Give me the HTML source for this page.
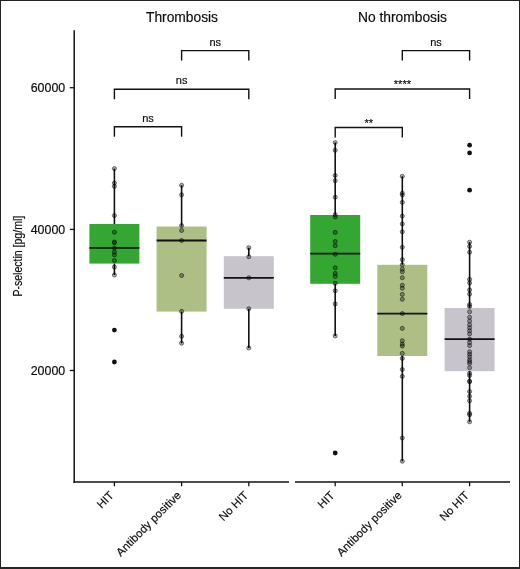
<!DOCTYPE html><html><head><meta charset="utf-8"><style>html,body{margin:0;padding:0;background:#fff;}svg{display:block;will-change:transform;}text{font-family:"Liberation Sans", sans-serif;fill:#0d0d0d;stroke:#0d0d0d;stroke-width:0.18px;}</style></head><body>
<svg width="520" height="569" viewBox="0 0 520 569">
<rect x="0" y="0" width="520" height="569" fill="#fff"/>
<rect x="89.40" y="224.00" width="50.00" height="39.60" fill="#34a733"/>
<line x1="114.40" y1="168.60" x2="114.40" y2="224.00" stroke="#111" stroke-width="1.6"/>
<line x1="114.40" y1="263.60" x2="114.40" y2="275.00" stroke="#111" stroke-width="1.6"/>
<line x1="89.40" y1="247.80" x2="139.40" y2="247.80" stroke="#111" stroke-width="1.8"/>
<rect x="156.60" y="226.50" width="50.00" height="85.10" fill="#adbf85"/>
<line x1="181.60" y1="185.30" x2="181.60" y2="226.50" stroke="#111" stroke-width="1.6"/>
<line x1="181.60" y1="311.60" x2="181.60" y2="343.20" stroke="#111" stroke-width="1.6"/>
<line x1="156.60" y1="240.50" x2="206.60" y2="240.50" stroke="#111" stroke-width="1.8"/>
<rect x="223.80" y="256.20" width="50.00" height="52.60" fill="#c7c5cb"/>
<line x1="248.80" y1="247.70" x2="248.80" y2="256.20" stroke="#111" stroke-width="1.6"/>
<line x1="248.80" y1="308.80" x2="248.80" y2="348.00" stroke="#111" stroke-width="1.6"/>
<line x1="223.80" y1="277.80" x2="273.80" y2="277.80" stroke="#111" stroke-width="1.8"/>
<rect x="310.20" y="215.00" width="50.00" height="68.80" fill="#34a733"/>
<line x1="335.20" y1="142.60" x2="335.20" y2="215.00" stroke="#111" stroke-width="1.6"/>
<line x1="335.20" y1="283.80" x2="335.20" y2="335.90" stroke="#111" stroke-width="1.6"/>
<line x1="310.20" y1="253.60" x2="360.20" y2="253.60" stroke="#111" stroke-width="1.8"/>
<rect x="377.30" y="264.80" width="50.00" height="91.20" fill="#adbf85"/>
<line x1="402.30" y1="176.30" x2="402.30" y2="264.80" stroke="#111" stroke-width="1.6"/>
<line x1="402.30" y1="356.00" x2="402.30" y2="461.20" stroke="#111" stroke-width="1.6"/>
<line x1="377.30" y1="313.60" x2="427.30" y2="313.60" stroke="#111" stroke-width="1.8"/>
<rect x="444.60" y="308.00" width="50.00" height="63.20" fill="#c7c5cb"/>
<line x1="469.60" y1="242.10" x2="469.60" y2="308.00" stroke="#111" stroke-width="1.6"/>
<line x1="469.60" y1="371.20" x2="469.60" y2="421.80" stroke="#111" stroke-width="1.6"/>
<line x1="444.60" y1="339.10" x2="494.60" y2="339.10" stroke="#111" stroke-width="1.8"/>
<circle cx="114.40" cy="168.60" r="2.05" fill="#000" fill-opacity="0.32" stroke="#000" stroke-opacity="0.6" stroke-width="0.8"/>
<circle cx="114.40" cy="183.10" r="2.05" fill="#000" fill-opacity="0.32" stroke="#000" stroke-opacity="0.6" stroke-width="0.8"/>
<circle cx="114.40" cy="186.40" r="2.05" fill="#000" fill-opacity="0.32" stroke="#000" stroke-opacity="0.6" stroke-width="0.8"/>
<circle cx="114.40" cy="215.60" r="2.05" fill="#000" fill-opacity="0.32" stroke="#000" stroke-opacity="0.6" stroke-width="0.8"/>
<circle cx="114.40" cy="232.20" r="2.05" fill="#000" fill-opacity="0.32" stroke="#000" stroke-opacity="0.6" stroke-width="0.8"/>
<circle cx="114.40" cy="242.00" r="2.05" fill="#000" fill-opacity="0.32" stroke="#000" stroke-opacity="0.6" stroke-width="0.8"/>
<circle cx="114.40" cy="242.80" r="2.05" fill="#000" fill-opacity="0.32" stroke="#000" stroke-opacity="0.6" stroke-width="0.8"/>
<circle cx="114.40" cy="248.10" r="2.05" fill="#000" fill-opacity="0.32" stroke="#000" stroke-opacity="0.6" stroke-width="0.8"/>
<circle cx="114.40" cy="252.10" r="2.05" fill="#000" fill-opacity="0.32" stroke="#000" stroke-opacity="0.6" stroke-width="0.8"/>
<circle cx="114.40" cy="254.90" r="2.05" fill="#000" fill-opacity="0.32" stroke="#000" stroke-opacity="0.6" stroke-width="0.8"/>
<circle cx="114.40" cy="260.50" r="2.05" fill="#000" fill-opacity="0.32" stroke="#000" stroke-opacity="0.6" stroke-width="0.8"/>
<circle cx="114.40" cy="267.10" r="2.05" fill="#000" fill-opacity="0.32" stroke="#000" stroke-opacity="0.6" stroke-width="0.8"/>
<circle cx="114.40" cy="275.00" r="2.05" fill="#000" fill-opacity="0.32" stroke="#000" stroke-opacity="0.6" stroke-width="0.8"/>
<circle cx="181.60" cy="185.30" r="2.05" fill="#000" fill-opacity="0.32" stroke="#000" stroke-opacity="0.6" stroke-width="0.8"/>
<circle cx="181.60" cy="194.80" r="2.05" fill="#000" fill-opacity="0.32" stroke="#000" stroke-opacity="0.6" stroke-width="0.8"/>
<circle cx="181.60" cy="225.60" r="2.05" fill="#000" fill-opacity="0.32" stroke="#000" stroke-opacity="0.6" stroke-width="0.8"/>
<circle cx="181.60" cy="230.50" r="2.05" fill="#000" fill-opacity="0.32" stroke="#000" stroke-opacity="0.6" stroke-width="0.8"/>
<circle cx="181.60" cy="240.50" r="2.05" fill="#000" fill-opacity="0.32" stroke="#000" stroke-opacity="0.6" stroke-width="0.8"/>
<circle cx="181.60" cy="275.50" r="2.05" fill="#000" fill-opacity="0.32" stroke="#000" stroke-opacity="0.6" stroke-width="0.8"/>
<circle cx="181.60" cy="311.40" r="2.05" fill="#000" fill-opacity="0.32" stroke="#000" stroke-opacity="0.6" stroke-width="0.8"/>
<circle cx="181.60" cy="336.30" r="2.05" fill="#000" fill-opacity="0.32" stroke="#000" stroke-opacity="0.6" stroke-width="0.8"/>
<circle cx="181.60" cy="343.20" r="2.05" fill="#000" fill-opacity="0.32" stroke="#000" stroke-opacity="0.6" stroke-width="0.8"/>
<circle cx="248.80" cy="247.70" r="2.05" fill="#000" fill-opacity="0.32" stroke="#000" stroke-opacity="0.6" stroke-width="0.8"/>
<circle cx="248.80" cy="256.70" r="2.05" fill="#000" fill-opacity="0.32" stroke="#000" stroke-opacity="0.6" stroke-width="0.8"/>
<circle cx="248.80" cy="277.80" r="2.05" fill="#000" fill-opacity="0.32" stroke="#000" stroke-opacity="0.6" stroke-width="0.8"/>
<circle cx="248.80" cy="308.80" r="2.05" fill="#000" fill-opacity="0.32" stroke="#000" stroke-opacity="0.6" stroke-width="0.8"/>
<circle cx="248.80" cy="348.00" r="2.05" fill="#000" fill-opacity="0.32" stroke="#000" stroke-opacity="0.6" stroke-width="0.8"/>
<circle cx="335.20" cy="142.60" r="2.05" fill="#000" fill-opacity="0.32" stroke="#000" stroke-opacity="0.6" stroke-width="0.8"/>
<circle cx="335.20" cy="150.30" r="2.05" fill="#000" fill-opacity="0.32" stroke="#000" stroke-opacity="0.6" stroke-width="0.8"/>
<circle cx="335.20" cy="175.50" r="2.05" fill="#000" fill-opacity="0.32" stroke="#000" stroke-opacity="0.6" stroke-width="0.8"/>
<circle cx="335.20" cy="180.70" r="2.05" fill="#000" fill-opacity="0.32" stroke="#000" stroke-opacity="0.6" stroke-width="0.8"/>
<circle cx="335.20" cy="197.20" r="2.05" fill="#000" fill-opacity="0.32" stroke="#000" stroke-opacity="0.6" stroke-width="0.8"/>
<circle cx="335.20" cy="214.60" r="2.05" fill="#000" fill-opacity="0.32" stroke="#000" stroke-opacity="0.6" stroke-width="0.8"/>
<circle cx="335.20" cy="216.90" r="2.05" fill="#000" fill-opacity="0.32" stroke="#000" stroke-opacity="0.6" stroke-width="0.8"/>
<circle cx="335.20" cy="232.40" r="2.05" fill="#000" fill-opacity="0.32" stroke="#000" stroke-opacity="0.6" stroke-width="0.8"/>
<circle cx="335.20" cy="241.50" r="2.05" fill="#000" fill-opacity="0.32" stroke="#000" stroke-opacity="0.6" stroke-width="0.8"/>
<circle cx="335.20" cy="245.70" r="2.05" fill="#000" fill-opacity="0.32" stroke="#000" stroke-opacity="0.6" stroke-width="0.8"/>
<circle cx="335.20" cy="254.30" r="2.05" fill="#000" fill-opacity="0.32" stroke="#000" stroke-opacity="0.6" stroke-width="0.8"/>
<circle cx="335.20" cy="267.80" r="2.05" fill="#000" fill-opacity="0.32" stroke="#000" stroke-opacity="0.6" stroke-width="0.8"/>
<circle cx="335.20" cy="273.40" r="2.05" fill="#000" fill-opacity="0.32" stroke="#000" stroke-opacity="0.6" stroke-width="0.8"/>
<circle cx="335.20" cy="276.40" r="2.05" fill="#000" fill-opacity="0.32" stroke="#000" stroke-opacity="0.6" stroke-width="0.8"/>
<circle cx="335.20" cy="283.30" r="2.05" fill="#000" fill-opacity="0.32" stroke="#000" stroke-opacity="0.6" stroke-width="0.8"/>
<circle cx="335.20" cy="290.70" r="2.05" fill="#000" fill-opacity="0.32" stroke="#000" stroke-opacity="0.6" stroke-width="0.8"/>
<circle cx="335.20" cy="303.90" r="2.05" fill="#000" fill-opacity="0.32" stroke="#000" stroke-opacity="0.6" stroke-width="0.8"/>
<circle cx="335.20" cy="335.90" r="2.05" fill="#000" fill-opacity="0.32" stroke="#000" stroke-opacity="0.6" stroke-width="0.8"/>
<circle cx="402.30" cy="176.30" r="2.05" fill="#000" fill-opacity="0.32" stroke="#000" stroke-opacity="0.6" stroke-width="0.8"/>
<circle cx="402.30" cy="193.20" r="2.05" fill="#000" fill-opacity="0.32" stroke="#000" stroke-opacity="0.6" stroke-width="0.8"/>
<circle cx="402.30" cy="194.90" r="2.05" fill="#000" fill-opacity="0.32" stroke="#000" stroke-opacity="0.6" stroke-width="0.8"/>
<circle cx="402.30" cy="202.40" r="2.05" fill="#000" fill-opacity="0.32" stroke="#000" stroke-opacity="0.6" stroke-width="0.8"/>
<circle cx="402.30" cy="216.10" r="2.05" fill="#000" fill-opacity="0.32" stroke="#000" stroke-opacity="0.6" stroke-width="0.8"/>
<circle cx="402.30" cy="223.90" r="2.05" fill="#000" fill-opacity="0.32" stroke="#000" stroke-opacity="0.6" stroke-width="0.8"/>
<circle cx="402.30" cy="231.80" r="2.05" fill="#000" fill-opacity="0.32" stroke="#000" stroke-opacity="0.6" stroke-width="0.8"/>
<circle cx="402.30" cy="247.30" r="2.05" fill="#000" fill-opacity="0.32" stroke="#000" stroke-opacity="0.6" stroke-width="0.8"/>
<circle cx="402.30" cy="259.60" r="2.05" fill="#000" fill-opacity="0.32" stroke="#000" stroke-opacity="0.6" stroke-width="0.8"/>
<circle cx="402.30" cy="264.80" r="2.05" fill="#000" fill-opacity="0.32" stroke="#000" stroke-opacity="0.6" stroke-width="0.8"/>
<circle cx="402.30" cy="269.20" r="2.05" fill="#000" fill-opacity="0.32" stroke="#000" stroke-opacity="0.6" stroke-width="0.8"/>
<circle cx="402.30" cy="271.80" r="2.05" fill="#000" fill-opacity="0.32" stroke="#000" stroke-opacity="0.6" stroke-width="0.8"/>
<circle cx="402.30" cy="277.70" r="2.05" fill="#000" fill-opacity="0.32" stroke="#000" stroke-opacity="0.6" stroke-width="0.8"/>
<circle cx="402.30" cy="285.30" r="2.05" fill="#000" fill-opacity="0.32" stroke="#000" stroke-opacity="0.6" stroke-width="0.8"/>
<circle cx="402.30" cy="288.30" r="2.05" fill="#000" fill-opacity="0.32" stroke="#000" stroke-opacity="0.6" stroke-width="0.8"/>
<circle cx="402.30" cy="294.40" r="2.05" fill="#000" fill-opacity="0.32" stroke="#000" stroke-opacity="0.6" stroke-width="0.8"/>
<circle cx="402.30" cy="299.30" r="2.05" fill="#000" fill-opacity="0.32" stroke="#000" stroke-opacity="0.6" stroke-width="0.8"/>
<circle cx="402.30" cy="313.60" r="2.05" fill="#000" fill-opacity="0.32" stroke="#000" stroke-opacity="0.6" stroke-width="0.8"/>
<circle cx="402.30" cy="328.40" r="2.05" fill="#000" fill-opacity="0.32" stroke="#000" stroke-opacity="0.6" stroke-width="0.8"/>
<circle cx="402.30" cy="340.70" r="2.05" fill="#000" fill-opacity="0.32" stroke="#000" stroke-opacity="0.6" stroke-width="0.8"/>
<circle cx="402.30" cy="344.10" r="2.05" fill="#000" fill-opacity="0.32" stroke="#000" stroke-opacity="0.6" stroke-width="0.8"/>
<circle cx="402.30" cy="346.10" r="2.05" fill="#000" fill-opacity="0.32" stroke="#000" stroke-opacity="0.6" stroke-width="0.8"/>
<circle cx="402.30" cy="353.40" r="2.05" fill="#000" fill-opacity="0.32" stroke="#000" stroke-opacity="0.6" stroke-width="0.8"/>
<circle cx="402.30" cy="358.40" r="2.05" fill="#000" fill-opacity="0.32" stroke="#000" stroke-opacity="0.6" stroke-width="0.8"/>
<circle cx="402.30" cy="369.50" r="2.05" fill="#000" fill-opacity="0.32" stroke="#000" stroke-opacity="0.6" stroke-width="0.8"/>
<circle cx="402.30" cy="376.40" r="2.05" fill="#000" fill-opacity="0.32" stroke="#000" stroke-opacity="0.6" stroke-width="0.8"/>
<circle cx="402.30" cy="437.90" r="2.05" fill="#000" fill-opacity="0.32" stroke="#000" stroke-opacity="0.6" stroke-width="0.8"/>
<circle cx="402.30" cy="461.20" r="2.05" fill="#000" fill-opacity="0.32" stroke="#000" stroke-opacity="0.6" stroke-width="0.8"/>
<circle cx="469.60" cy="242.20" r="2.05" fill="#000" fill-opacity="0.32" stroke="#000" stroke-opacity="0.6" stroke-width="0.8"/>
<circle cx="469.60" cy="246.40" r="2.05" fill="#000" fill-opacity="0.32" stroke="#000" stroke-opacity="0.6" stroke-width="0.8"/>
<circle cx="469.60" cy="252.30" r="2.05" fill="#000" fill-opacity="0.32" stroke="#000" stroke-opacity="0.6" stroke-width="0.8"/>
<circle cx="469.60" cy="279.40" r="2.05" fill="#000" fill-opacity="0.32" stroke="#000" stroke-opacity="0.6" stroke-width="0.8"/>
<circle cx="469.60" cy="283.00" r="2.05" fill="#000" fill-opacity="0.32" stroke="#000" stroke-opacity="0.6" stroke-width="0.8"/>
<circle cx="469.60" cy="289.90" r="2.05" fill="#000" fill-opacity="0.32" stroke="#000" stroke-opacity="0.6" stroke-width="0.8"/>
<circle cx="469.60" cy="294.10" r="2.05" fill="#000" fill-opacity="0.32" stroke="#000" stroke-opacity="0.6" stroke-width="0.8"/>
<circle cx="469.60" cy="304.50" r="2.05" fill="#000" fill-opacity="0.32" stroke="#000" stroke-opacity="0.6" stroke-width="0.8"/>
<circle cx="469.60" cy="306.50" r="2.05" fill="#000" fill-opacity="0.32" stroke="#000" stroke-opacity="0.6" stroke-width="0.8"/>
<circle cx="469.60" cy="311.80" r="2.05" fill="#000" fill-opacity="0.32" stroke="#000" stroke-opacity="0.6" stroke-width="0.8"/>
<circle cx="469.60" cy="317.30" r="2.05" fill="#000" fill-opacity="0.32" stroke="#000" stroke-opacity="0.6" stroke-width="0.8"/>
<circle cx="469.60" cy="321.00" r="2.05" fill="#000" fill-opacity="0.32" stroke="#000" stroke-opacity="0.6" stroke-width="0.8"/>
<circle cx="469.60" cy="324.70" r="2.05" fill="#000" fill-opacity="0.32" stroke="#000" stroke-opacity="0.6" stroke-width="0.8"/>
<circle cx="469.60" cy="327.80" r="2.05" fill="#000" fill-opacity="0.32" stroke="#000" stroke-opacity="0.6" stroke-width="0.8"/>
<circle cx="469.60" cy="330.80" r="2.05" fill="#000" fill-opacity="0.32" stroke="#000" stroke-opacity="0.6" stroke-width="0.8"/>
<circle cx="469.60" cy="333.90" r="2.05" fill="#000" fill-opacity="0.32" stroke="#000" stroke-opacity="0.6" stroke-width="0.8"/>
<circle cx="469.60" cy="339.10" r="2.05" fill="#000" fill-opacity="0.32" stroke="#000" stroke-opacity="0.6" stroke-width="0.8"/>
<circle cx="469.60" cy="342.50" r="2.05" fill="#000" fill-opacity="0.32" stroke="#000" stroke-opacity="0.6" stroke-width="0.8"/>
<circle cx="469.60" cy="345.60" r="2.05" fill="#000" fill-opacity="0.32" stroke="#000" stroke-opacity="0.6" stroke-width="0.8"/>
<circle cx="469.60" cy="351.70" r="2.05" fill="#000" fill-opacity="0.32" stroke="#000" stroke-opacity="0.6" stroke-width="0.8"/>
<circle cx="469.60" cy="354.20" r="2.05" fill="#000" fill-opacity="0.32" stroke="#000" stroke-opacity="0.6" stroke-width="0.8"/>
<circle cx="469.60" cy="356.70" r="2.05" fill="#000" fill-opacity="0.32" stroke="#000" stroke-opacity="0.6" stroke-width="0.8"/>
<circle cx="469.60" cy="359.70" r="2.05" fill="#000" fill-opacity="0.32" stroke="#000" stroke-opacity="0.6" stroke-width="0.8"/>
<circle cx="469.60" cy="361.60" r="2.05" fill="#000" fill-opacity="0.32" stroke="#000" stroke-opacity="0.6" stroke-width="0.8"/>
<circle cx="469.60" cy="363.50" r="2.05" fill="#000" fill-opacity="0.32" stroke="#000" stroke-opacity="0.6" stroke-width="0.8"/>
<circle cx="469.60" cy="367.70" r="2.05" fill="#000" fill-opacity="0.32" stroke="#000" stroke-opacity="0.6" stroke-width="0.8"/>
<circle cx="469.60" cy="373.30" r="2.05" fill="#000" fill-opacity="0.32" stroke="#000" stroke-opacity="0.6" stroke-width="0.8"/>
<circle cx="469.60" cy="375.50" r="2.05" fill="#000" fill-opacity="0.32" stroke="#000" stroke-opacity="0.6" stroke-width="0.8"/>
<circle cx="469.60" cy="381.10" r="2.05" fill="#000" fill-opacity="0.32" stroke="#000" stroke-opacity="0.6" stroke-width="0.8"/>
<circle cx="469.60" cy="381.80" r="2.05" fill="#000" fill-opacity="0.32" stroke="#000" stroke-opacity="0.6" stroke-width="0.8"/>
<circle cx="469.60" cy="391.60" r="2.05" fill="#000" fill-opacity="0.32" stroke="#000" stroke-opacity="0.6" stroke-width="0.8"/>
<circle cx="469.60" cy="396.30" r="2.05" fill="#000" fill-opacity="0.32" stroke="#000" stroke-opacity="0.6" stroke-width="0.8"/>
<circle cx="469.60" cy="400.70" r="2.05" fill="#000" fill-opacity="0.32" stroke="#000" stroke-opacity="0.6" stroke-width="0.8"/>
<circle cx="469.60" cy="413.40" r="2.05" fill="#000" fill-opacity="0.32" stroke="#000" stroke-opacity="0.6" stroke-width="0.8"/>
<circle cx="469.60" cy="414.80" r="2.05" fill="#000" fill-opacity="0.32" stroke="#000" stroke-opacity="0.6" stroke-width="0.8"/>
<circle cx="469.60" cy="421.80" r="2.05" fill="#000" fill-opacity="0.32" stroke="#000" stroke-opacity="0.6" stroke-width="0.8"/>
<circle cx="114.40" cy="330.10" r="2.4" fill="#111"/>
<circle cx="114.40" cy="362.00" r="2.4" fill="#111"/>
<circle cx="335.20" cy="453.00" r="2.4" fill="#111"/>
<circle cx="469.60" cy="145.20" r="2.4" fill="#111"/>
<circle cx="469.60" cy="152.90" r="2.4" fill="#111"/>
<circle cx="469.60" cy="190.20" r="2.4" fill="#111"/>
<line x1="74.2" y1="30.2" x2="74.2" y2="482.7" stroke="#111" stroke-width="1.5"/>
<line x1="73.45" y1="482" x2="289" y2="482" stroke="#111" stroke-width="1.5"/>
<line x1="295" y1="482" x2="510" y2="482" stroke="#111" stroke-width="1.5"/>
<line x1="69.8" y1="87.7" x2="74.2" y2="87.7" stroke="#111" stroke-width="1.3"/>
<text x="65.2" y="92.0" font-size="12.4" text-anchor="end">60000</text>
<line x1="69.8" y1="229.4" x2="74.2" y2="229.4" stroke="#111" stroke-width="1.3"/>
<text x="65.2" y="233.7" font-size="12.4" text-anchor="end">40000</text>
<line x1="69.8" y1="370.5" x2="74.2" y2="370.5" stroke="#111" stroke-width="1.3"/>
<text x="65.2" y="374.8" font-size="12.4" text-anchor="end">20000</text>
<line x1="114.4" y1="482" x2="114.4" y2="486.3" stroke="#111" stroke-width="1.3"/>
<line x1="181.6" y1="482" x2="181.6" y2="486.3" stroke="#111" stroke-width="1.3"/>
<line x1="248.8" y1="482" x2="248.8" y2="486.3" stroke="#111" stroke-width="1.3"/>
<line x1="335.2" y1="482" x2="335.2" y2="486.3" stroke="#111" stroke-width="1.3"/>
<line x1="402.3" y1="482" x2="402.3" y2="486.3" stroke="#111" stroke-width="1.3"/>
<line x1="469.6" y1="482" x2="469.6" y2="486.3" stroke="#111" stroke-width="1.3"/>
<text x="182" y="22.2" font-size="13.8" text-anchor="middle">Thrombosis</text>
<text x="402.5" y="22" font-size="13.8" text-anchor="middle">No thrombosis</text>
<text transform="translate(21.7,256.2) rotate(-90) scale(0.864,1)" font-size="12.2" text-anchor="middle" stroke="#1a1a1a" stroke-width="0.25">P-selectin [pg/ml]</text>
<text transform="translate(114.5,496.0) rotate(-45)" font-size="11.4" text-anchor="end">HIT</text>
<text transform="translate(181.7,496.0) rotate(-45)" font-size="11.4" text-anchor="end">Antibody positive</text>
<text transform="translate(248.9,496.0) rotate(-45)" font-size="11.4" text-anchor="end">No HIT</text>
<text transform="translate(335.3,496.0) rotate(-45)" font-size="11.4" text-anchor="end">HIT</text>
<text transform="translate(402.4,496.0) rotate(-45)" font-size="11.4" text-anchor="end">Antibody positive</text>
<text transform="translate(469.7,496.0) rotate(-45)" font-size="11.4" text-anchor="end">No HIT</text>
<path d="M181.6 60.6 L181.6 50.6 L248.8 50.6 L248.8 60.6" fill="none" stroke="#111" stroke-width="1.4"/>
<text x="215.2" y="45.6" font-size="11" text-anchor="middle">ns</text>
<path d="M114.4 99.2 L114.4 89.2 L248.8 89.2 L248.8 99.2" fill="none" stroke="#111" stroke-width="1.4"/>
<text x="181.6" y="84.2" font-size="11" text-anchor="middle">ns</text>
<path d="M114.4 136.8 L114.4 126.8 L181.6 126.8 L181.6 136.8" fill="none" stroke="#111" stroke-width="1.4"/>
<text x="148.0" y="121.8" font-size="11" text-anchor="middle">ns</text>
<path d="M402.3 60.6 L402.3 50.6 L469.6 50.6 L469.6 60.6" fill="none" stroke="#111" stroke-width="1.4"/>
<text x="436.0" y="45.6" font-size="11" text-anchor="middle">ns</text>
<path d="M335.2 99.0 L335.2 89.0 L469.6 89.0 L469.6 99.0" fill="none" stroke="#111" stroke-width="1.4"/>
<text x="402.4" y="88.2" font-size="11" text-anchor="middle">****</text>
<path d="M335.2 137.5 L335.2 127.5 L402.3 127.5 L402.3 137.5" fill="none" stroke="#111" stroke-width="1.4"/>
<text x="368.8" y="126.7" font-size="11" text-anchor="middle">**</text>
<rect x="0.5" y="0.5" width="519" height="567" fill="none" stroke="#222" stroke-width="1"/>
<rect x="0" y="567" width="520" height="2" fill="#262626"/>
</svg></body></html>
